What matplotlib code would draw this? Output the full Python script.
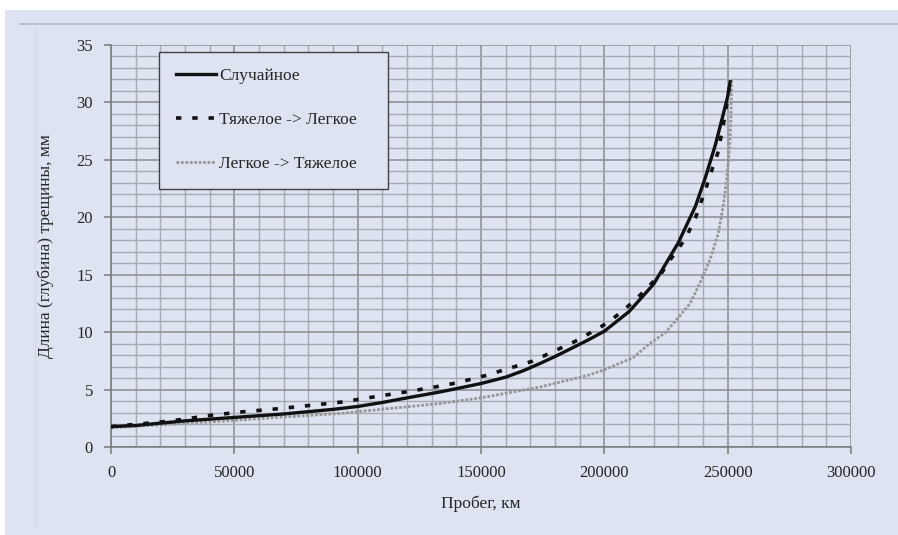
import matplotlib
matplotlib.use("Agg")
import matplotlib.pyplot as plt
from matplotlib.patches import Rectangle
from matplotlib.lines import Line2D
from matplotlib.ticker import MultipleLocator

plt.rcParams["font.family"] = ["Liberation Serif", "DejaVu Serif"]

# =========================
# data
# =========================
labels = ["Случайное", "Тяжелое -> Легкое", "Легкое -> Тяжелое"]

x_random = [0, 10000, 20000, 30000, 50000, 70000, 90000, 100000, 110000,
            120000, 133000, 140000, 150000, 160000, 167000, 174000, 181000,
            188000, 194000, 200000, 210000, 220000, 230000, 237000, 241000,
            245000, 248000, 250000, 251000]
y_random = [1.8, 1.9, 2.1, 2.3, 2.6, 2.9, 3.3, 3.55, 3.9,
            4.3, 4.8, 5.1, 5.55, 6.1, 6.65, 7.3, 8.0,
            8.75, 9.4, 10.1, 11.8, 14.2, 17.8, 21.0, 23.5,
            26.3, 28.8, 30.5, 31.8]

x_heavy_light = [0, 10000, 20000, 28000, 41000, 54000, 67500, 81000, 94000,
                 107000, 120500, 132700, 140000, 152000, 171000, 188000,
                 198000, 203000, 212000, 218000, 223000, 227000, 233000,
                 237000, 241000, 244000, 246000, 248700, 250300, 250800]
y_heavy_light = [1.8, 2.0, 2.2, 2.4, 2.8, 3.1, 3.35, 3.65, 3.95,
                 4.4, 4.85, 5.3, 5.6, 6.25, 7.5, 9.2,
                 10.4, 11.1, 12.7, 14.0, 15.1, 16.4, 18.2,
                 20.0, 22.4, 24.4, 25.6, 28.6, 30.8, 31.7]

x_light_heavy = [0, 20000, 50000, 75000, 93000, 100000, 133000, 150000,
                 174000, 194000, 200000, 211700, 218500, 224600, 229300,
                 234700, 238800, 242800, 246200, 248200, 249600, 250700,
                 251300, 251600]
y_light_heavy = [1.7, 1.95, 2.35, 2.7, 2.95, 3.1, 3.8, 4.3,
                 5.25, 6.3, 6.75, 7.8, 9.05, 9.95, 11.1,
                 12.5, 14.3, 16.3, 18.6, 21.0, 23.3, 25.9,
                 28.5, 32.0]

BG = "#dde3f0"
TXT = "#262626"

# =========================
# figure / background panel
# =========================
fig = plt.figure(figsize=(8.98, 5.35), dpi=100, facecolor="white")
W, H = 898, 535
fig.add_artist(Rectangle((5 / W, 0), 893 / W, 525 / H,
                         transform=fig.transFigure, facecolor=BG,
                         edgecolor="none", zorder=-10))
fig.add_artist(Line2D([20 / W, 1], [1 - 24 / H] * 2, transform=fig.transFigure,
                      color="#b4b8c4", lw=1.2, zorder=-5))
fig.add_artist(Line2D([35 / W] * 2, [1 - 24 / H, 1 - 527 / H],
                      transform=fig.transFigure, color="#d2d7e3", lw=0.8,
                      zorder=-5))

ax = fig.add_axes([111 / W, 1 - 447.3 / H, 740 / W, 402.3 / H])
ax.set_facecolor(BG)

ax.plot(x_random, y_random, color="#111111", lw=2.4, label=labels[0],
        solid_joinstyle="round", zorder=4)
ax.plot(x_heavy_light, y_heavy_light, color="#111111", lw=2.6,
        linestyle=(0, (1.5, 3.0)), label=labels[1], zorder=3)
ax.plot(x_light_heavy, y_light_heavy, color="#979797", lw=2.0,
        linestyle=(0, (1.0, 0.6)), label=labels[2], zorder=2)

ax.set_xlim(0, 300000)
ax.set_ylim(0, 35)
ax.xaxis.set_major_locator(MultipleLocator(50000))
ax.xaxis.set_minor_locator(MultipleLocator(10000))
ax.yaxis.set_major_locator(MultipleLocator(5))
ax.yaxis.set_minor_locator(MultipleLocator(1))

ax.grid(which="major", color="#8a8c92", lw=1.1)
ax.grid(which="minor", color="#a6aab4", lw=1.0)
ax.set_axisbelow(True)

for s in ("top", "right"):
    ax.spines[s].set_visible(False)
for s in ("left", "bottom"):
    ax.spines[s].set_color("#7a7a7a")
    ax.spines[s].set_linewidth(1.1)

ax.tick_params(which="major", length=5, width=1.1, color="#7a7a7a",
               labelsize=12, labelcolor=TXT)
ax.tick_params(axis="x", which="major", pad=8)
ax.tick_params(axis="y", which="major", pad=8)
ax.tick_params(which="minor", length=0)

ax.set_xlabel("Пробег, км", fontsize=12.5, color=TXT, labelpad=10)
ax.set_ylabel("Длина (глубина) трещины, мм", fontsize=12.5, color=TXT,
              labelpad=16)

leg = ax.legend(loc="upper left", bbox_to_anchor=(0.065, 0.883, 0.309, 0.1),
                mode="expand", borderaxespad=0, fontsize=12.5, frameon=True,
                fancybox=False, framealpha=1, facecolor=BG,
                edgecolor="#404040", handlelength=2.3, handletextpad=0.2,
                labelspacing=1.6, borderpad=0.95)
leg.get_frame().set_linewidth(1.0)
for t in leg.get_texts():
    t.set_color(TXT)

fig.savefig("out.png", dpi=100, facecolor="white")
